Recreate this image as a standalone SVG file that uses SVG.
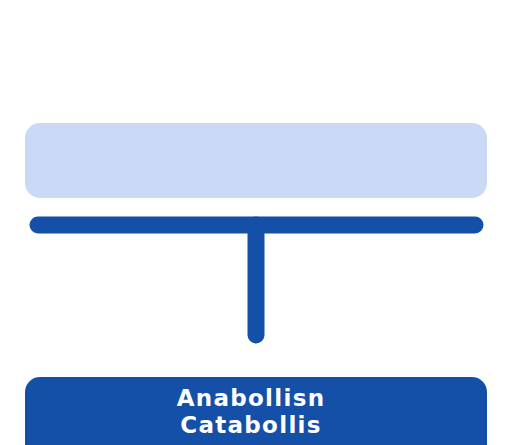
<svg xmlns="http://www.w3.org/2000/svg" width="512" height="445" viewBox="0 0 512 445">
<style>
.conn{stroke:#1550A8;stroke-width:17;stroke-linecap:round;fill:none}
.lbl{font-family:"DejaVu Sans","Liberation Sans",sans-serif;font-weight:bold;font-size:23px;letter-spacing:1.3px;fill:#ffffff;text-anchor:middle}
</style>
<rect width="512" height="445" fill="#ffffff"/>
<g id="node-top">
<rect x="25" y="123" width="462" height="75" rx="15" fill="#C9D9F6"/>
</g>
<g id="connectors">
<line class="conn" x1="38" y1="225" x2="475" y2="225"/>
<line class="conn" x1="256" y1="225" x2="256" y2="335"/>
</g>
<g id="node-bottom">
<rect x="25" y="377" width="462" height="90" rx="15" fill="#1550A8"/>
<text class="lbl" x="251" y="406">Anabollisn</text>
<text class="lbl" x="251" y="433">Catabollis</text>
</g>
</svg>
